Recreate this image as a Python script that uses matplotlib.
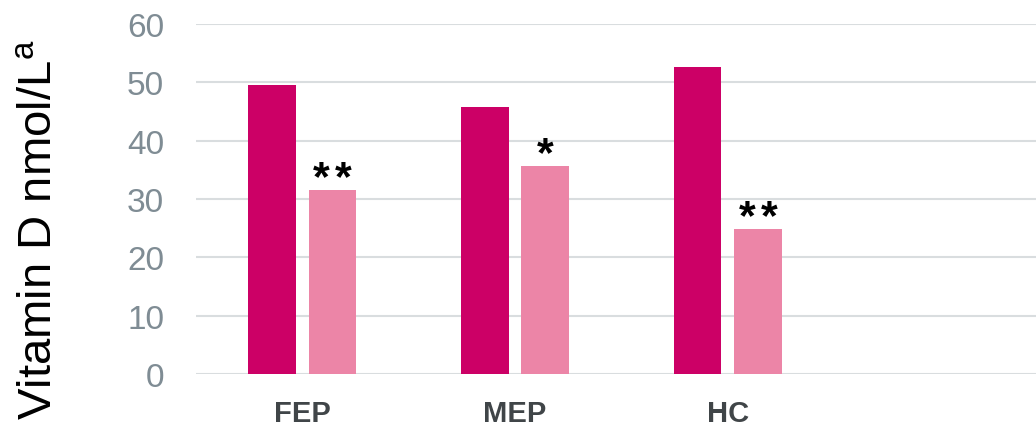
import numpy as np
import matplotlib
matplotlib.use('Agg')
import matplotlib.pyplot as plt

plt.rcParams['font.family'] = ['Liberation Sans', 'DejaVu Sans']
plt.rcParams['mathtext.fontset'] = 'custom'
plt.rcParams['mathtext.rm'] = 'Liberation Sans'
plt.rcParams['mathtext.it'] = 'Liberation Sans'

# groups (the last slot is left empty)
groups = ['FEP', 'MEP', 'HC', '']
first_vals = [49.6, 45.7, 52.7]
second_vals = [31.6, 35.7, 24.9]
stars = ['**', '*', '**']
y_ticks = [0, 10, 20, 30, 40, 50, 60]

dark = '#CC0066'
light = '#EC85A7'

fig = plt.figure(figsize=(10.36, 4.27), dpi=100)
ax = fig.add_axes([196 / 1036., 52 / 427., 840 / 1036., 350 / 427.])

x = np.arange(len(first_vals))
w = 0.224
off = 0.142
ax.bar(x - off, first_vals, w, color=dark, zorder=3)
bars2 = ax.bar(x + off, second_vals, w, color=light, zorder=3)

# significance marks over the second bar of each group, one glyph at a time
for b, s in zip(bars2, stars):
    xc = b.get_x() + b.get_width() / 2
    for i, ch in enumerate(s):
        dx = (i - (len(s) - 1) / 2.) * 16
        ax.annotate(ch, (xc, b.get_height()),
                    xytext=(dx, 0.5), textcoords='offset points',
                    ha='center', va='baseline', fontsize=31,
                    fontweight='bold', color='black')

ax.set_xlim(-0.5, -0.5 + 840 / 212.7)
ax.set_ylim(0, 60)
ax.set_yticks(y_ticks)
ax.set_xticks(np.arange(len(groups)))
ax.set_xticklabels(groups, fontsize=21, fontweight='bold', color='#404548')
ax.tick_params(axis='y', length=0, pad=23, labelsize=24, labelcolor='#7F8C94')
ax.tick_params(axis='x', length=0, pad=18)
ax.yaxis.grid(True, color='#D9DDDF', linewidth=1.5, zorder=0)
for sp in ax.spines.values():
    sp.set_visible(False)

ax.set_ylabel('Vitamin D nmol/L$^{\\mathrm{a}}$', fontsize=34, color='black')
ax.yaxis.set_label_coords(-0.16, 0.416)

fig.savefig('out.png', dpi=100)
